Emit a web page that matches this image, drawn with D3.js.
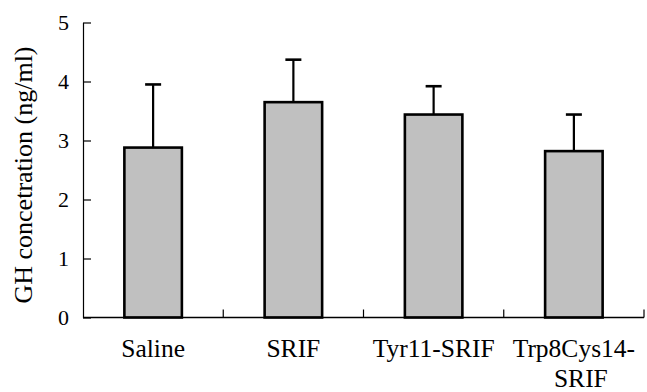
<!DOCTYPE html>
<html>
<head>
<meta charset="utf-8">
<script src="https://cdn.jsdelivr.net/npm/d3@7"></script>
<style>
  body { margin: 0; background: #fff; }
  text { font-family: "Liberation Serif", "Times New Roman", serif; fill: #000; }
</style>
</head>
<body>
<div id="chart"></div>
<script>
// chart data
const categories = ["Saline", "SRIF", "Tyr11-SRIF", "Trp8Cys14-SRIF"];
const labelLines = [["Saline"], ["SRIF"], ["Tyr11-SRIF"], ["Trp8Cys14-", "SRIF"]];
const means = [2.88, 3.65, 3.44, 2.82];
const errors = [1.07, 0.72, 0.48, 0.62];
const yTicks = [0, 1, 2, 3, 4, 5];

const width = 647, height = 392;
const margin = {top: 22.5, right: 3, bottom: 74.5, left: 83};
const innerW = width - margin.left - margin.right;
const innerH = height - margin.top - margin.bottom;

const svg = d3.select("#chart")
    .append("svg")
    .attr("width", width)
    .attr("height", height);

const g = svg.append("g")
    .attr("transform", `translate(${margin.left},${margin.top})`);

const x = d3.scaleBand()
    .domain(categories)
    .range([0, 561])
    .paddingInner(0.59)
    .paddingOuter(0.295);

const y = d3.scaleLinear()
    .domain([0, 5])
    .range([innerH, 0]);

// bars
g.selectAll("rect.bar")
    .data(categories)
    .join("rect")
    .attr("class", "bar")
    .attr("x", d => x(d))
    .attr("y", (d, i) => y(means[i]))
    .attr("width", x.bandwidth())
    .attr("height", (d, i) => innerH - y(means[i]))
    .style("fill", "#c0c0c0")
    .style("stroke", "#000")
    .style("stroke-width", 2.6);

// error bars (upper only)
const errG = g.selectAll("g.err")
    .data(categories)
    .join("g")
    .attr("class", "err");

errG.append("line")
    .attr("x1", d => x(d) + x.bandwidth() / 2)
    .attr("x2", d => x(d) + x.bandwidth() / 2)
    .attr("y1", (d, i) => y(means[i]))
    .attr("y2", (d, i) => y(means[i] + errors[i]))
    .style("stroke", "#000")
    .style("stroke-width", 2.2);

errG.append("line")
    .attr("x1", d => x(d) + x.bandwidth() / 2 - 8)
    .attr("x2", d => x(d) + x.bandwidth() / 2 + 8)
    .attr("y1", (d, i) => y(means[i] + errors[i]))
    .attr("y2", (d, i) => y(means[i] + errors[i]))
    .style("stroke", "#000")
    .style("stroke-width", 2.6);

// y axis
const yAxis = g.append("g")
    .call(d3.axisLeft(y).tickValues(yTicks).tickFormat(d3.format("d"))
        .tickSizeInner(-8).tickSizeOuter(0).tickPadding(14));
yAxis.select(".domain").style("stroke", "#000").style("stroke-width", 1.2);
yAxis.selectAll(".tick line").style("stroke", "#000").style("stroke-width", 1.2);
yAxis.selectAll(".tick text")
    .style("font-size", "22px")
    .attr("dy", "0.34em");

// x axis with ticks at category boundaries
const bounds = d3.range(categories.length + 1).map(i => i * x.step());
g.append("line")
    .attr("x1", 0).attr("x2", 561)
    .attr("y1", innerH).attr("y2", innerH)
    .style("stroke", "#000").style("stroke-width", 1.5);
g.selectAll("line.xtick")
    .data(bounds.slice(1))
    .join("line")
    .attr("class", "xtick")
    .attr("x1", d => d).attr("x2", d => d)
    .attr("y1", innerH).attr("y2", innerH - 8)
    .style("stroke", "#000").style("stroke-width", 1.2);

const xl = g.selectAll("text.xlabel")
    .data(categories)
    .join("text")
    .attr("class", "xlabel")
    .attr("text-anchor", "middle")
    .attr("transform", d => `translate(${x(d) + x.bandwidth() / 2},${innerH + 39.5})`)
    .style("font-size", "25.5px");
xl.selectAll("tspan")
    .data((d, i) => labelLines[i])
    .join("tspan")
    .attr("x", (d, j) => j === 0 ? 0 : 7)
    .attr("dy", (d, j) => j === 0 ? 0 : 30)
    .text(d => d);

// y axis title
svg.append("text")
    .attr("transform", `translate(32,${margin.top + innerH / 2 + 5}) rotate(-90)`)
    .attr("text-anchor", "middle")
    .style("font-size", "26px")
    .text("GH concetration (ng/ml)");
</script>
</body>
</html>
